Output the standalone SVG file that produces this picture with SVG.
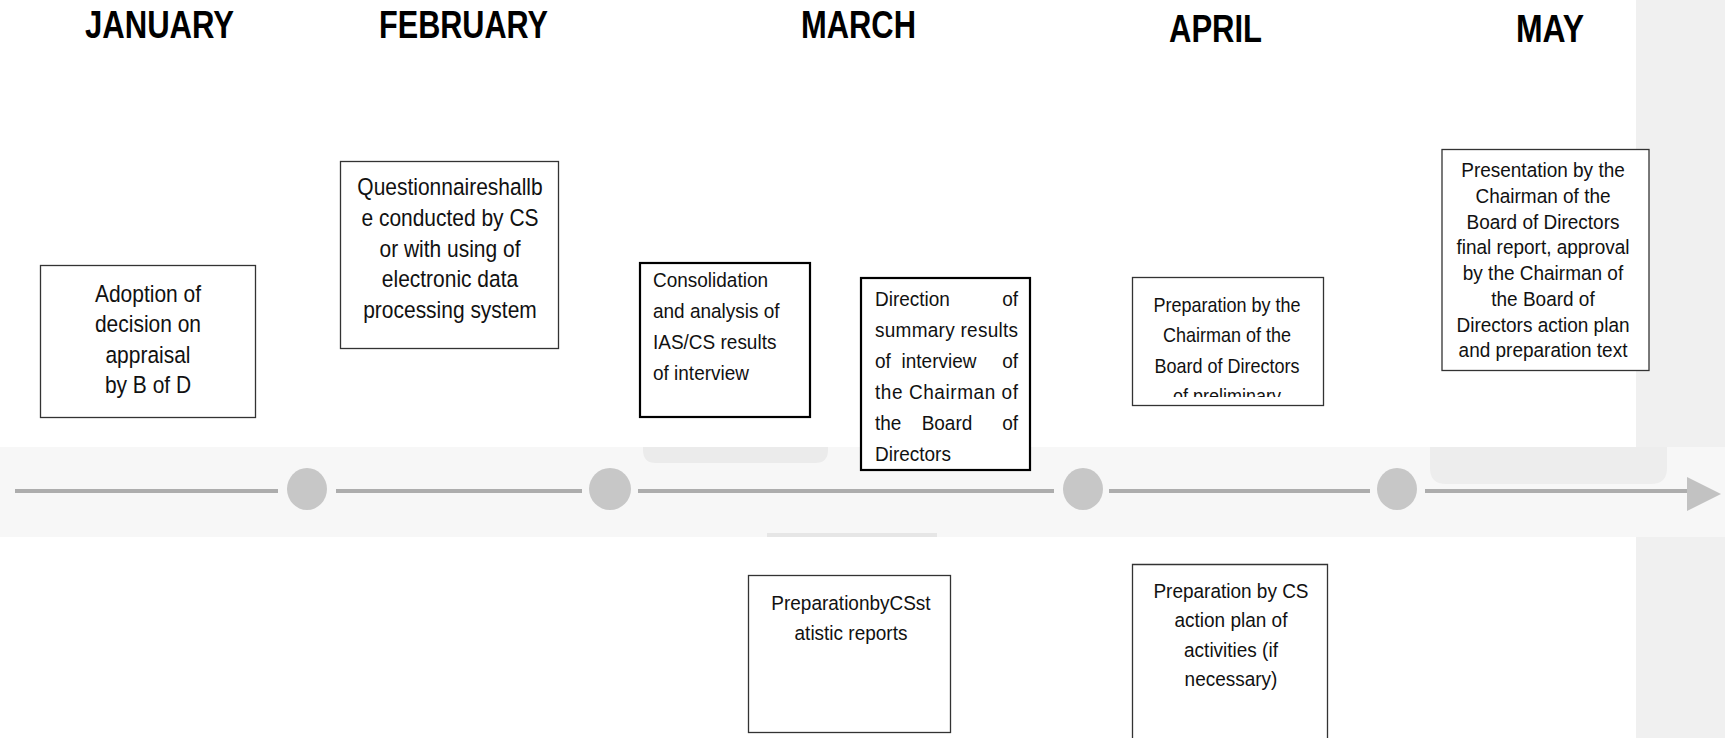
<svg xmlns="http://www.w3.org/2000/svg" width="1725" height="738" viewBox="0 0 1725 738">
<style>
text{font-family:"Liberation Sans",Arial,sans-serif;fill:#111}
.hd{font-size:39px;font-weight:bold;fill:#000}
.box{fill:#fff;stroke:#333;stroke-width:1.3}
.boxb{fill:#fff;stroke:#000;stroke-width:2.2}
.c{text-anchor:middle}
.e{text-anchor:end}
.f21{font-size:23.3px}
.f19{font-size:21.1px}
.f18{font-size:20px}
.seg{stroke:#adadad;stroke-width:4;fill:none}
.dot{fill:#c7c7c7}
</style>
<defs>
<clipPath id="clipPrep"><rect x="1133" y="278" width="190" height="119"/></clipPath>
</defs>
<rect x="0" y="0" width="1725" height="738" fill="#fff"/>
<rect x="1636" y="0" width="89" height="738" fill="#f0f0f0"/>

<g id="timeline-band">
<rect x="0" y="447" width="1725" height="90" fill="#f7f7f7"/>
<path d="M643 447 H828 V450 Q828 463 815 463 H656 Q643 463 643 450 Z" fill="#ebebeb"/>
<path d="M1430 447 H1667 V468 Q1667 484 1651 484 H1446 Q1430 484 1430 468 Z" fill="#ededed"/>
<rect x="767" y="533" width="170" height="4" fill="#e6e6e6"/>
</g>

<g id="headers">
<text class="hd" x="85" y="38" textLength="149" lengthAdjust="spacingAndGlyphs">JANUARY</text>
<text class="hd" x="379" y="38" textLength="169" lengthAdjust="spacingAndGlyphs">FEBRUARY</text>
<text class="hd" x="801" y="38" textLength="115" lengthAdjust="spacingAndGlyphs">MARCH</text>
<text class="hd" x="1169" y="42" textLength="93" lengthAdjust="spacingAndGlyphs">APRIL</text>
<text class="hd" x="1516" y="42" textLength="68" lengthAdjust="spacingAndGlyphs">MAY</text>
</g>

<g id="connectors">
<line class="seg" x1="15" y1="491" x2="278" y2="491"/>
<line class="seg" x1="336" y1="491" x2="582" y2="491"/>
<line class="seg" x1="638" y1="491" x2="1054" y2="491"/>
<line class="seg" x1="1109" y1="491" x2="1370" y2="491"/>
<line class="seg" x1="1425" y1="491" x2="1690" y2="491"/>
<polygon points="1687,477 1721,494 1687,511" fill="#c2c2c2"/>
<ellipse class="dot" cx="307" cy="489" rx="20" ry="21"/>
<ellipse class="dot" cx="610" cy="489" rx="21" ry="21"/>
<ellipse class="dot" cx="1083" cy="489" rx="20" ry="21"/>
<ellipse class="dot" cx="1397" cy="489" rx="20" ry="21"/>
</g>

<g id="node-adoption">
<rect class="box" x="40.5" y="265.5" width="215" height="152"/>
<g transform="matrix(0.9 0 0 1 14.8 0)">
<text class="c f21" x="148" y="302">Adoption of</text>
<text class="c f21" x="148" y="332.5">decision on</text>
<text class="c f21" x="148" y="363">appraisal</text>
<text class="c f21" x="148" y="393.5">by B of D</text>
</g>
</g>

<g id="node-questionnaire">
<rect class="box" x="340.5" y="161.5" width="218" height="187"/>
<g transform="matrix(0.9 0 0 1 45 0)">
<text class="c f21" x="450" y="195">Questionnaireshallb</text>
<text class="c f21" x="450" y="226">e conducted by CS</text>
<text class="c f21" x="450" y="257">or with using of</text>
<text class="c f21" x="450" y="287">electronic data</text>
<text class="c f21" x="450" y="318">processing system</text>
</g>
</g>

<g id="node-consolidation">
<rect class="boxb" x="640" y="263" width="170" height="154"/>
<g transform="matrix(0.9 0 0 1 65.3 0)">
<text class="f19" x="653" y="287">Consolidation</text>
<text class="f19" x="653" y="318">and analysis of</text>
<text class="f19" x="653" y="349">IAS/CS results</text>
<text class="f19" x="653" y="380">of interview</text>
</g>
</g>

<g id="node-direction">
<rect class="boxb" x="861" y="278" width="169" height="192"/>
<g transform="matrix(0.9 0 0 1 87.5 0)">
<text class="f19" x="875" y="306">Direction</text><text class="f19 e" x="1033.9" y="306">of</text>
<text class="f19" x="875" y="337" textLength="158.9" lengthAdjust="spacing">summary results</text>
<text class="f19" x="875" y="368">of</text><text class="f19 c" x="946.1" y="368">interview</text><text class="f19 e" x="1033.9" y="368">of</text>
<text class="f19" x="875" y="399" textLength="158.9" lengthAdjust="spacing">the Chairman of</text>
<text class="f19" x="875" y="430">the</text><text class="f19 c" x="955" y="430">Board</text><text class="f19 e" x="1033.9" y="430">of</text>
<text class="f19" x="875" y="461">Directors</text>
</g>
</g>

<g id="node-prep-chairman">
<rect class="box" x="1132.5" y="277.5" width="191" height="128"/>
<g clip-path="url(#clipPrep)">
<g transform="matrix(0.9 0 0 1 122.7 0)">
<text class="c f18" x="1227" y="312">Preparation by the</text>
<text class="c f18" x="1227" y="342">Chairman of the</text>
<text class="c f18" x="1227" y="373">Board of Directors</text>
<text class="c f18" x="1227" y="403">of preliminary</text>
</g>
</g>
</g>

<g id="node-presentation">
<rect class="box" x="1442" y="149.5" width="207" height="221"/>
<g transform="matrix(0.9 0 0 1 154.3 0)">
<text class="c f19" x="1543" y="177">Presentation by the</text>
<text class="c f19" x="1543" y="203">Chairman of the</text>
<text class="c f19" x="1543" y="229">Board of Directors</text>
<text class="c f19" x="1543" y="254.5">final report, approval</text>
<text class="c f19" x="1543" y="280">by the Chairman of</text>
<text class="c f19" x="1543" y="306">the Board of</text>
<text class="c f19" x="1543" y="332">Directors action plan</text>
<text class="c f19" x="1543" y="357.5">and preparation text</text>
</g>
</g>

<g id="node-prep-cs-stat">
<rect class="box" x="748.5" y="575.5" width="202" height="157"/>
<g transform="matrix(0.9 0 0 1 85.1 0)">
<text class="c f19" x="851" y="610">PreparationbyCSst</text>
<text class="c f19" x="851" y="640">atistic reports</text>
</g>
</g>

<g id="node-prep-cs-plan">
<path class="box" d="M1132.5 740 V564.5 H1327.5 V740"/>
<g transform="matrix(0.9 0 0 1 123.1 0)">
<text class="c f19" x="1231" y="598">Preparation by CS</text>
<text class="c f19" x="1231" y="627.5">action plan of</text>
<text class="c f19" x="1231" y="657">activities (if</text>
<text class="c f19" x="1231" y="686.5">necessary)</text>
</g>
</g>
</svg>
